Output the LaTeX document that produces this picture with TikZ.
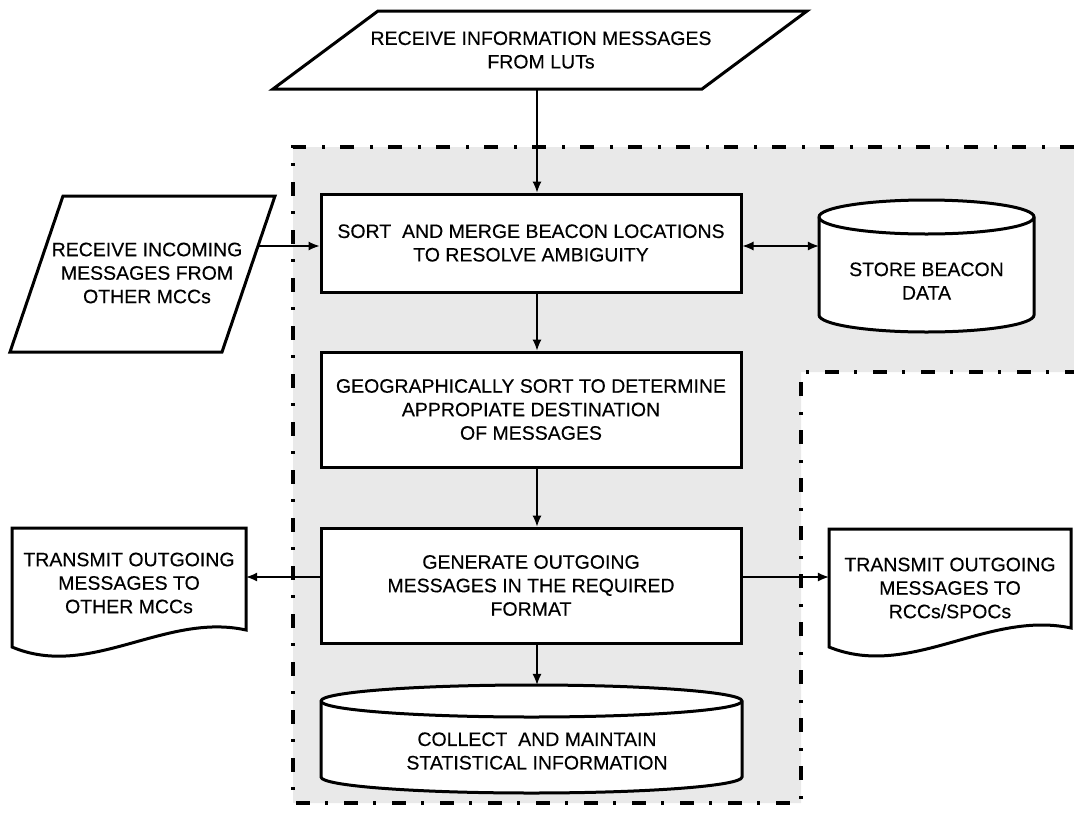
\documentclass[tikz,border=0pt]{standalone}
\usepackage{fontspec}
\setmainfont{Liberation Sans}
\newfontfamily\labelfont[FakeBold=0.3]{Liberation Sans}
\usetikzlibrary{arrows.meta}
\definecolor{zonegray}{RGB}{233,233,233}
\begin{document}
\begin{tikzpicture}[x=1pt,y=-1pt,
  txt/.style={font=\labelfont\fontsize{19.5pt}{23.5pt}\selectfont, align=center, inner sep=0pt},
  proc/.style={txt, draw, line width=3pt, fill=white, minimum width=420pt},
  outline/.style={draw, line width=3pt, fill=white, line join=miter},
  arr/.style={line width=1.1pt, -{Latex[length=11pt,width=9pt]}},
  dbl/.style={line width=1.1pt, {Latex[length=11pt,width=9pt]}-{Latex[length=11pt,width=9pt]}},
  zone/.style={line width=4pt, dash pattern=on 14pt off 15pt on 3pt off 16pt}
]
\useasboundingbox (0,0) rectangle (1074,812);

% shaded MCC zone with dash-dot border
\fill[zonegray] (293,147) -- (1074,147) -- (1074,372) -- (801,372) -- (801,803) -- (293,803) -- cycle;
\draw[zone] (1074,147) -- (293,147) -- (293,803) -- (801,803) -- (801,372) -- (1074,372);

% input from LUTs
\draw[outline] (273,89) -- (378,11) -- (807,11) -- (702,89) -- cycle;
\node[txt, minimum height=78pt, minimum width=300pt] (lut) at (541,50) {RECEIVE INFORMATION MESSAGES\\FROM LUTs};

% input from other MCCs
\draw[outline] (10,352) -- (63,196) -- (275,196) -- (222,352) -- cycle;
\node[txt] (inc) at (147,273) {RECEIVE INCOMING\\MESSAGES FROM\\OTHER MCCs};
\coordinate (incR) at (259,246);

% processing steps
\node[proc, minimum height=98pt] (sort) at (531,243) {SORT\ \ AND MERGE BEACON LOCATIONS\\TO RESOLVE AMBIGUITY};
\node[proc, minimum height=115pt] (geo) at (531,409.5) {GEOGRAPHICALLY SORT TO DETERMINE\\APPROPIATE DESTINATION\\OF MESSAGES};
\node[proc, minimum height=115pt] (gen) at (531,585.5) {GENERATE OUTGOING\\MESSAGES IN THE REQUIRED\\FORMAT};

% beacon data store
\draw[outline] (819,217) -- (819,315)
  arc[start angle=180, end angle=360, x radius=107.5pt, y radius=17pt] -- (1034,217)
  arc[start angle=0, end angle=180, x radius=107.5pt, y radius=17pt] -- cycle;
\draw[line width=3pt] (819,217) arc[start angle=180, end angle=360, x radius=107.5pt, y radius=17pt];
\node[txt, minimum width=215pt] (store) at (926.5,281) {STORE BEACON\\DATA};

% statistics store
\draw[outline] (321,701) -- (321,777)
  arc[start angle=180, end angle=360, x radius=210.5pt, y radius=16pt] -- (742,701)
  arc[start angle=0, end angle=180, x radius=210.5pt, y radius=16pt] -- cycle;
\draw[line width=3pt] (321,701) arc[start angle=180, end angle=360, x radius=210.5pt, y radius=16pt];
\node[txt, minimum height=132pt] (stat) at (537,751) {COLLECT\ \ AND MAINTAIN\\STATISTICAL INFORMATION};

% output documents
\draw[outline] (12,528) -- (246,528) -- (246,630) .. controls (165,612) and (90,680) .. (12,647) -- cycle;
\node[txt, minimum width=234pt] (odoc) at (129,583) {TRANSMIT OUTGOING\\MESSAGES TO\\OTHER MCCs};
\draw[outline] (829,529) -- (1071,529) -- (1071,628) .. controls (987,610) and (910,680) .. (829,647) -- cycle;
\node[txt, minimum width=242pt] (rdoc) at (950,588) {TRANSMIT OUTGOING\\MESSAGES TO\\RCCs/SPOCs};

% connectors
\coordinate (ax) at (537,0);
\coordinate (s2b) at ([yshift=-3pt]sort.east);
\coordinate (g2o) at ([yshift=8.5pt]gen.west);
\coordinate (g2r) at ([yshift=8.5pt]gen.east);
\draw[arr] (lut.south -| ax) -- (sort.north -| ax);
\draw[arr] (incR) -- (incR -| sort.west);
\draw[dbl] (s2b) -- (s2b -| store.west);
\draw[arr] (sort.south -| ax) -- (geo.north -| ax);
\draw[arr] (geo.south -| ax) -- (gen.north -| ax);
\draw[arr] (gen.south -| ax) -- (stat.north -| ax);
\draw[arr] (g2o) -- (g2o -| odoc.east);
\draw[arr] (g2r) -- (g2r -| rdoc.west);
\end{tikzpicture}
\end{document}
